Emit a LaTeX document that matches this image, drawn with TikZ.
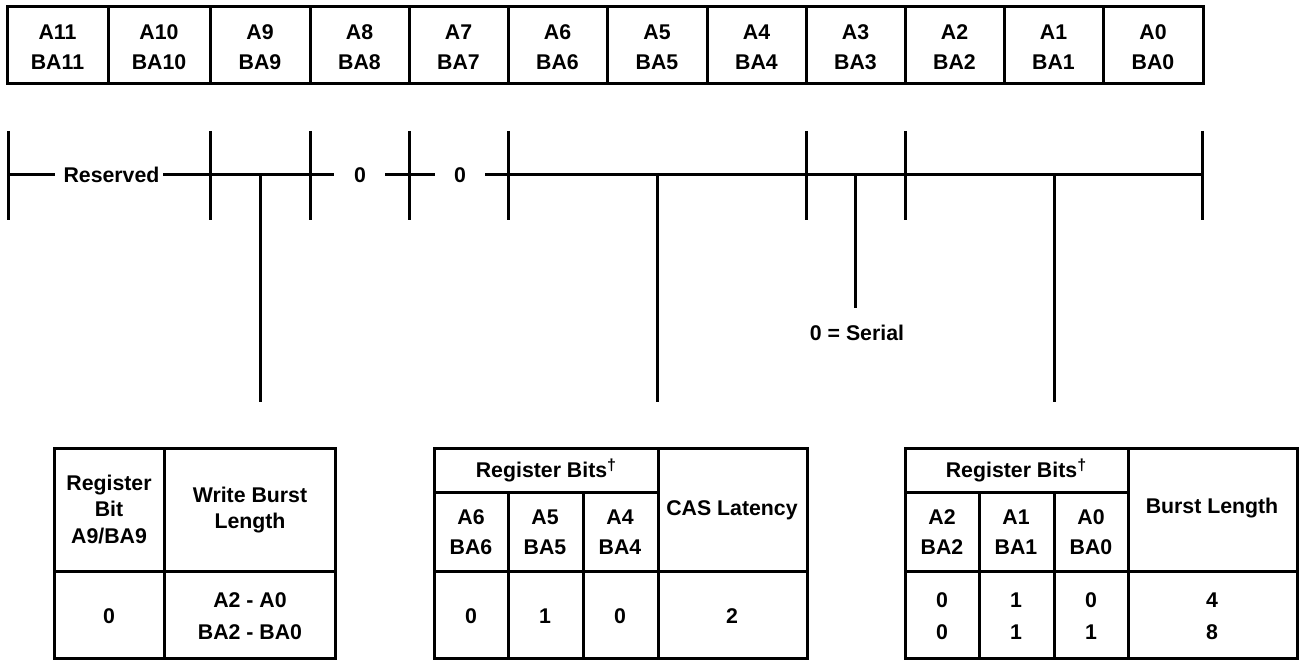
\documentclass[tikz,border=0pt]{standalone}
\usepackage{fontspec}
\setmainfont{Liberation Sans}
\newcommand{\dg}{\raisebox{7pt}{\fontsize{16}{16}\selectfont\textdagger}}
\begin{document}
\begin{tikzpicture}[x=1pt,y=-1pt,line width=3pt,
  txt/.style={font=\fontsize{21.3}{30}\selectfont\bfseries,inner sep=0pt,align=center},
  hdr/.style={font=\fontsize{21.3}{26.5}\selectfont\bfseries,inner sep=0pt,align=center},
  dat/.style={font=\fontsize{21.3}{32}\selectfont\bfseries,inner sep=0pt,align=center}]
\useasboundingbox (0,0) rectangle (1299,660);
% top register
\foreach \l/\r/\n in {7/108/11,108/210/10,210/310/9,310/409/8,409/508/7,508/607/6,607/707/5,707/806/4,806/905/3,905/1004/2,1004/1103/1,1103/1203/0}{
  \draw (\l,7) rectangle (\r,84);
  \node[txt] (c\n) at ({(\l+\r)/2},47) {A\n\\BA\n};
}
% field ticks
\foreach \x in {8,210,310,409,508,806,905,1202}{
  \draw (\x,131) -- (\x,220);
}
% field line
\node[txt] (res) at (111.5,175) {Reserved};
\node[txt] (z8) at (360,175) {0};
\node[txt] (z7) at (460,175) {0};
\draw (8,175) -- (55,175);
\draw (163,175) -- (334,175);
\draw (385,175) -- (435,175);
\draw (485,175) -- (1203,175);
% drops
\draw (260,175) -- (260,402);
\draw (657,175) -- (657,402);
\draw (855,175) -- (855,308);
\draw (1054,175) -- (1054,402);
\node[txt] (ser) at (857,333) {0 = Serial};
% table 1
\draw (54,448) rectangle (335,658);
\draw (164,448) -- (164,658);
\draw (54,571) -- (335,571);
\node[hdr] (t1a) at (109,509) {Register\\Bit\\A9/BA9};
\node[hdr] (t1b) at (250,510) {Write Burst\\Length};
\node[txt] (t1c) at (109,616) {0};
\node[dat] (t1d) at (250,616) {A2 - A0\\BA2 - BA0};
% table 2
\draw (434,448) rectangle (807,658);
\draw (658,448) -- (658,658);
\draw (434,492) -- (658,492);
\draw (434,571) -- (807,571);
\draw (508,492) -- (508,658);
\draw (583,492) -- (583,658);
\node[txt] (t2h) at (546,470) {Register Bits\dg};
\node[txt] (t2a) at (471,532) {A6\\BA6};
\node[txt] (t2b) at (545,532) {A5\\BA5};
\node[txt] (t2c) at (620,532) {A4\\BA4};
\node[txt] (t2d) at (732,510) {CAS Latency};
\node[txt] (t2e) at (471,616) {0};
\node[txt] (t2f) at (545,616) {1};
\node[txt] (t2g) at (620,616) {0};
\node[txt] (t2i) at (732,616) {2};
% table 3
\draw (905,448) rectangle (1297,658);
\draw (1128,448) -- (1128,658);
\draw (905,492) -- (1128,492);
\draw (905,571) -- (1297,571);
\draw (979,492) -- (979,658);
\draw (1054,492) -- (1054,658);
\node[txt] (t3h) at (1016,470) {Register Bits\dg};
\node[txt] (t3a) at (942,532) {A2\\BA2};
\node[txt] (t3b) at (1016,532) {A1\\BA1};
\node[txt] (t3c) at (1091,532) {A0\\BA0};
\node[txt] (t3d) at (1212,508) {Burst Length};
\node[dat] (t3e) at (942,616) {0\\0};
\node[dat] (t3f) at (1016,616) {1\\1};
\node[dat] (t3g) at (1091,616) {0\\1};
\node[dat] (t3i) at (1212,616) {4\\8};
\end{tikzpicture}
\end{document}
